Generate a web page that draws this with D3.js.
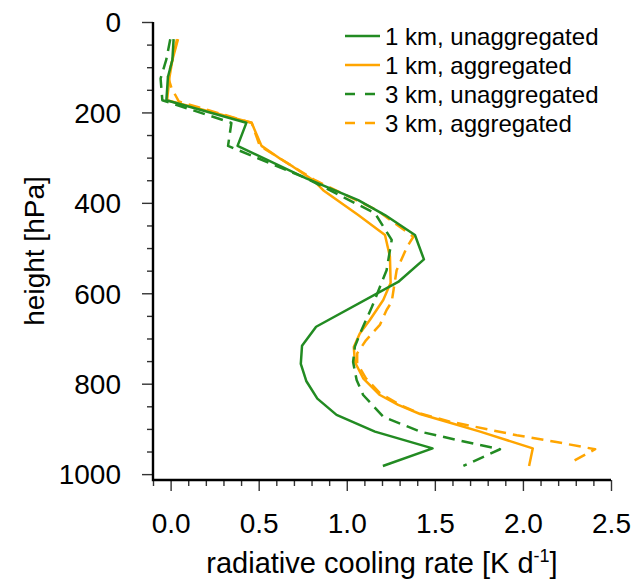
<!DOCTYPE html>
<html>
<head>
<meta charset="UTF-8">
<title>radiative cooling</title>
<script src="https://cdn.jsdelivr.net/npm/d3@7"></script>
<style>
  body { margin: 0; background: #fff; }
  text { font-family: "Liberation Sans", Arial, sans-serif; fill: #000; }
</style>
</head>
<body>
<div id="chart"></div>
<script>
// series: pressure levels (hPa) and cooling rates (K/d)
var p1kmUnagg = [38, 84, 121, 173, 223, 274, 346, 394, 427, 471, 525, 575, 674, 716, 756, 794, 833, 869, 906, 943, 982];
var r1kmUnagg = [0.017, 0.01, -0.015, -0.024, 0.43, 0.38, 0.77, 1.065, 1.217, 1.387, 1.438, 1.292, 0.826, 0.746, 0.739, 0.77, 0.833, 0.942, 1.16, 1.487, 1.205];

var p1kmAgg = [38, 84, 121, 173, 223, 274, 302, 320, 350, 372, 427, 471, 519, 577, 615, 659, 689, 719, 752, 788, 825, 847, 867, 884, 906, 943, 982];
var r1kmAgg = [0.042, 0.01, -0.006, -0.02, 0.46, 0.516, 0.62, 0.695, 0.81, 0.866, 1.065, 1.217, 1.245, 1.249, 1.207, 1.131, 1.074, 1.04, 1.046, 1.093, 1.188, 1.292, 1.416, 1.567, 1.757, 2.056, 2.035];

var p3kmUnagg = [38, 84, 125, 173, 223, 274, 345, 423, 482, 549, 630, 681, 718, 752, 792, 825, 873, 906, 925, 945, 982];
var r3kmUnagg = [-0.002, -0.025, -0.057, -0.047, 0.345, 0.326, 0.767, 1.16, 1.255, 1.226, 1.143, 1.084, 1.046, 1.036, 1.056, 1.093, 1.207, 1.416, 1.633, 1.87, 1.662];

var p3kmAgg = [38, 84, 121, 146, 176, 223, 274, 350, 416, 475, 497, 549, 619, 637, 670, 704, 733, 755, 788, 821, 847, 866, 884, 914, 929, 945, 976];
var r3kmAgg = [0.036, 0.01, -0.015, 0.005, 0.047, 0.46, 0.506, 0.82, 1.17, 1.378, 1.343, 1.283, 1.255, 1.226, 1.188, 1.109, 1.059, 1.059, 1.109, 1.188, 1.302, 1.416, 1.586, 1.965, 2.19, 2.41, 2.264];

var seriesNames = ["1 km, unaggregated", "1 km, aggregated", "3 km, unaggregated", "3 km, aggregated"];
var seriesColors = ["#228b22", "#ffa500", "#228b22", "#ffa500"];
var seriesDashed = [false, false, true, true];

var xMajor = [0.0, 0.5, 1.0, 1.5, 2.0, 2.5];
var yMajor = [0, 200, 400, 600, 800, 1000];

var W = 633, H = 583;
var plotLeft = 153, plotRight = 611, plotTop = 22, plotBottom = 480;

var svg = d3.select("#chart").append("svg").attr("width", W).attr("height", H);

var x = d3.scaleLinear().domain([-0.1, 2.5]).range([plotLeft, plotRight]);
var y = d3.scaleLinear().domain([0, 1013]).range([plotTop, plotBottom]);

// y axis
var yMinor = d3.range(0, 1001, 50).filter(function (v) { return v % 200 !== 0; });
svg.append("g").attr("transform", "translate(" + plotLeft + ",0)")
    .call(d3.axisLeft(y).tickValues(yMinor).tickSize(6).tickFormat(""))
    .call(function (g) { g.select(".domain").remove(); g.selectAll("line").attr("stroke", "#333").attr("stroke-width", 1.4); });
svg.append("g").attr("transform", "translate(" + plotLeft + ",0)")
    .call(d3.axisLeft(y).tickValues(yMajor).tickSize(11).tickPadding(21).tickFormat(d3.format("d")))
    .call(function (g) {
        g.select(".domain").remove();
        g.selectAll("line").attr("stroke", "#333").attr("stroke-width", 1.4);
        g.selectAll("text").attr("font-size", 28).attr("font-family", "Liberation Sans, Arial, sans-serif").attr("dy", "0.35em");
    });

// x axis
var xMinor = d3.range(-10, 251, 10).map(function (v) { return v / 100; }).filter(function (v) { return Math.abs(v * 2 - Math.round(v * 2)) > 1e-6; });
svg.append("g").attr("transform", "translate(0," + plotBottom + ")")
    .call(d3.axisBottom(x).tickValues(xMinor).tickSize(6).tickFormat(""))
    .call(function (g) { g.select(".domain").remove(); g.selectAll("line").attr("stroke", "#333").attr("stroke-width", 1.4); });
svg.append("g").attr("transform", "translate(0," + plotBottom + ")")
    .call(d3.axisBottom(x).tickValues(xMajor).tickSize(11).tickPadding(22).tickFormat(d3.format(".1f")))
    .call(function (g) {
        g.select(".domain").remove();
        g.selectAll("line").attr("stroke", "#333").attr("stroke-width", 1.4);
        g.selectAll("text").attr("font-size", 28).attr("font-family", "Liberation Sans, Arial, sans-serif").attr("dy", "0.71em");
    });

// axis frame (left and bottom only)
svg.append("path")
    .attr("d", "M" + plotLeft + "," + plotTop + "V" + plotBottom + "H" + plotRight)
    .attr("fill", "none").attr("stroke", "#000").attr("stroke-width", 2.4);

// curves
var allP = [p1kmUnagg, p1kmAgg, p3kmUnagg, p3kmAgg];
var allR = [r1kmUnagg, r1kmAgg, r3kmUnagg, r3kmAgg];
var line = d3.line().x(function (d) { return x(d[0]); }).y(function (d) { return y(d[1]); });

[1, 3, 0, 2].forEach(function (i) {
    var pts = allR[i].map(function (r, k) { return [r, allP[i][k]]; });
    svg.append("path")
        .datum(pts)
        .attr("d", line)
        .attr("fill", "none")
        .attr("stroke", seriesColors[i])
        .attr("stroke-width", 2.5)
        .attr("stroke-linejoin", "round")
        .attr("stroke-dasharray", seriesDashed[i] ? "12,7" : null);
});

// legend
var lg = svg.append("g");
seriesNames.forEach(function (name, i) {
    var cy = 36 + i * 29;
    lg.append("line")
        .attr("x1", 345).attr("x2", 380).attr("y1", cy).attr("y2", cy)
        .attr("stroke", seriesColors[i]).attr("stroke-width", 2.5)
        .attr("stroke-dasharray", seriesDashed[i] ? "10,10" : null);
    lg.append("text").attr("x", 385).attr("y", cy + 8.5).attr("font-size", 24).text(name);
});

// axis titles
var xt = svg.append("text").attr("x", (plotLeft + plotRight) / 2).attr("y", 573)
    .attr("text-anchor", "middle").attr("font-size", 29);
xt.append("tspan").text("radiative cooling rate [K d");
xt.append("tspan").attr("font-size", 18).attr("dy", -11).text("-1");
xt.append("tspan").attr("dy", 11).text("]");

svg.append("text")
    .attr("transform", "translate(44," + ((plotTop + plotBottom) / 2) + ") rotate(-90)")
    .attr("text-anchor", "middle").attr("font-size", 28)
    .text("height [hPa]");
</script>
</body>
</html>
